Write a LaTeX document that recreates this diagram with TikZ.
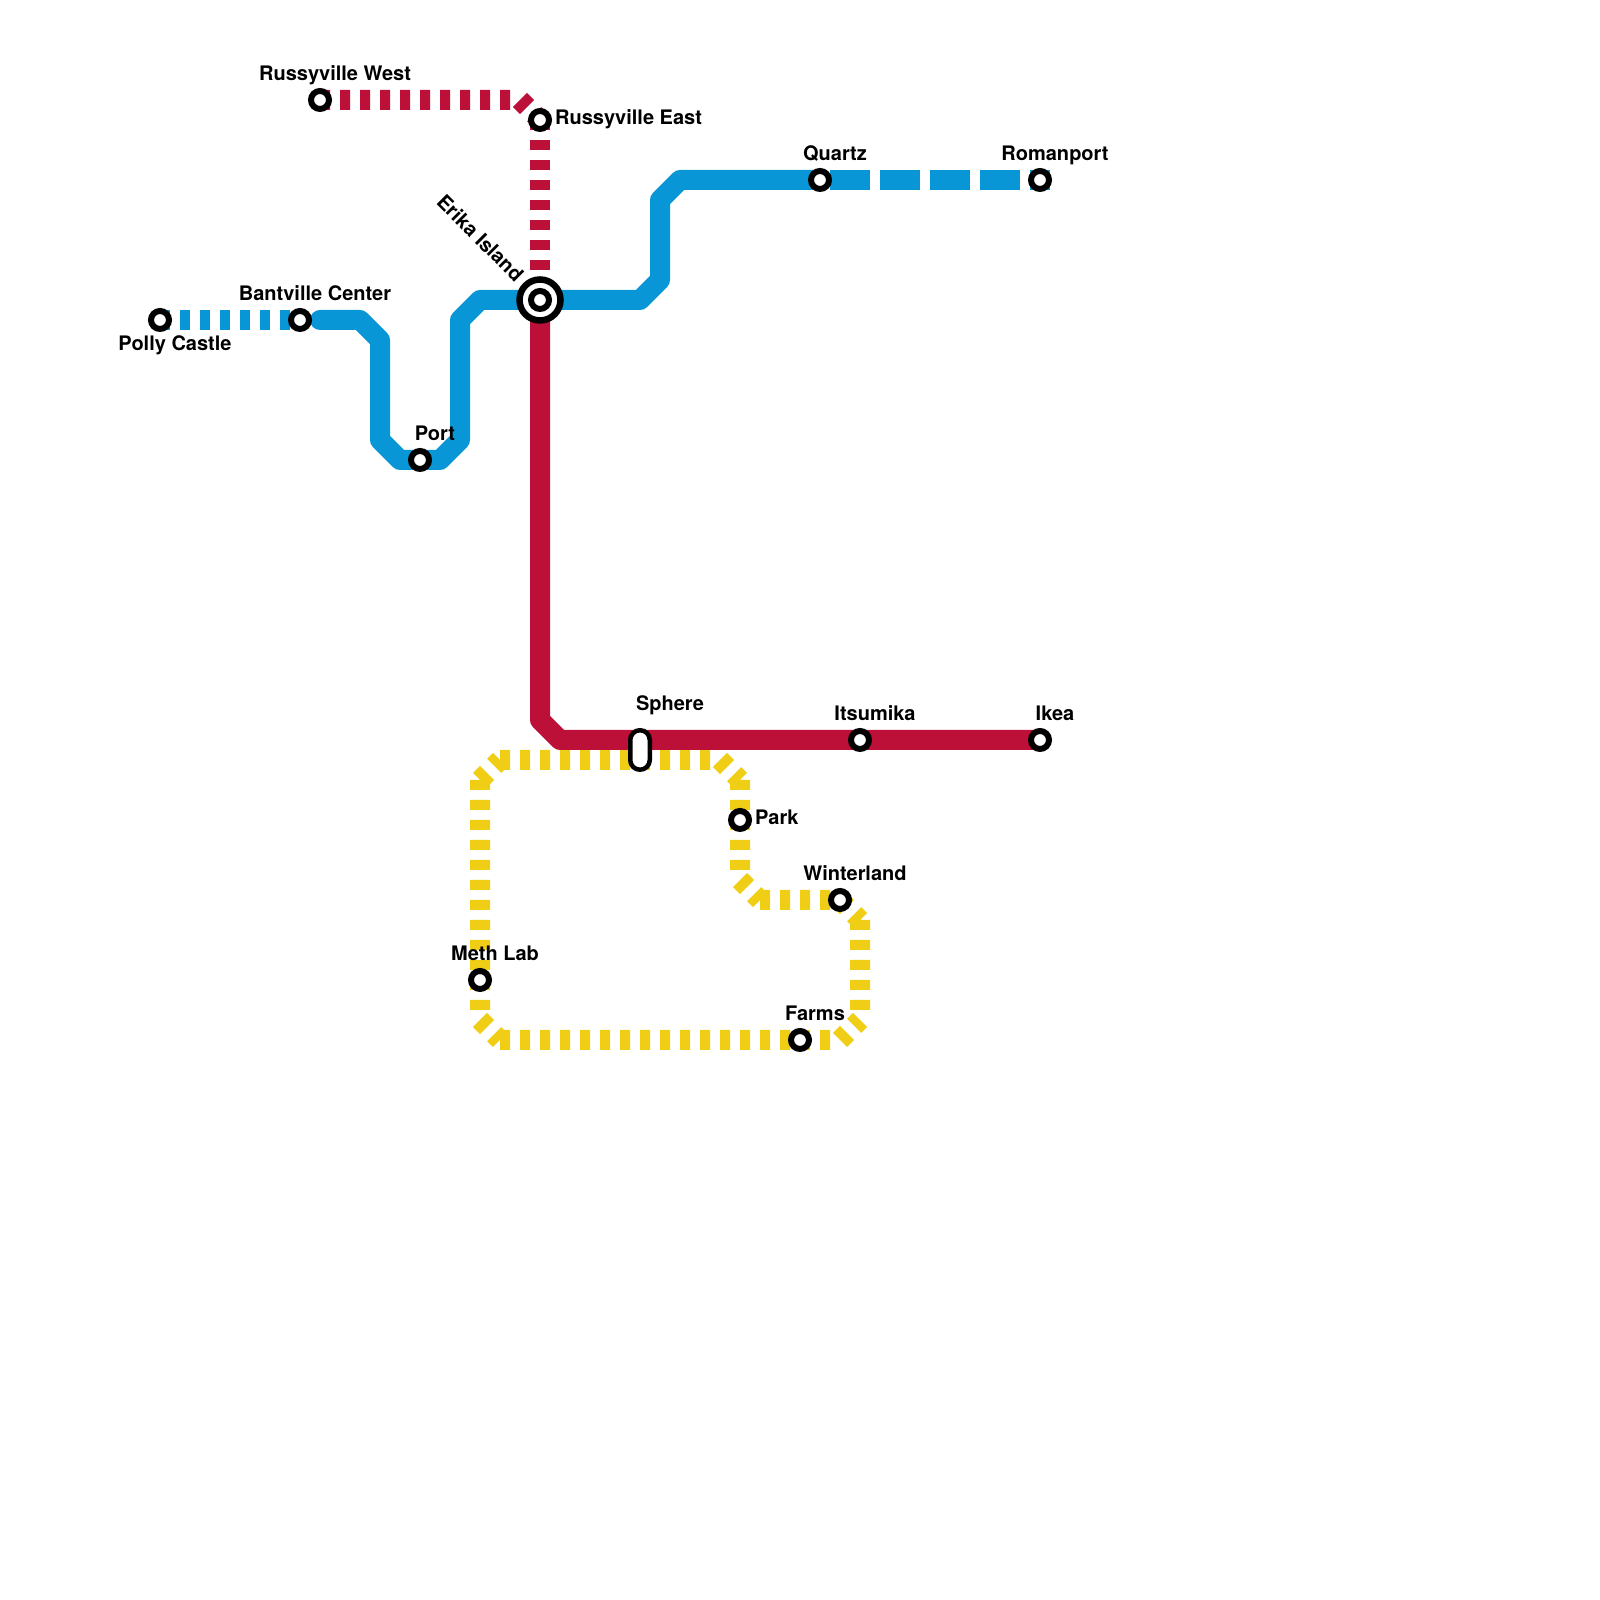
\documentclass[tikz,border=0pt]{standalone}
\usepackage{xcolor}
\usepackage{fontspec}
\setmainfont{TeX Gyre Heros}
\usetikzlibrary{positioning, calc, backgrounds}
\definecolor{lineblue}{HTML}{0896D7}
\definecolor{linered}{HTML}{BD1038}
\definecolor{lineyellow}{HTML}{F0CE15}

\begin{document}
\begin{tikzpicture}[x=1pt, y=1pt, on grid]
        \tikzstyle{station} = [circle, draw=black, fill=white, minimum size=18pt, inner sep=0pt, line width=6pt]
        \tikzstyle{hub} = [circle, draw=black, fill=white, minimum size=41pt, inner sep=0pt, line width=6.5pt]
        \tikzstyle{capsule} = [rectangle, draw=black, fill=white, rounded corners=9.7pt, minimum width=19.5pt, minimum height=39.5pt, inner sep=0pt, line width=4.5pt]
        \tikzstyle{lbl} = [inner sep=0pt, text depth=0pt, font=\fontsize{20}{22}\selectfont\bfseries]
        \tikzstyle{solidline} = [line width=20pt, line join=round]
        \tikzstyle{dotline} = [line width=20pt, dash pattern=on 10pt off 10pt]

        \useasboundingbox (0,0) rectangle (1600,1600);

        \node [station] at (160,1280) (polly) {};
        \node [station, right=140pt of polly] (bantville) {};
        \node [station, below right=140pt and 120pt of bantville] (port) {};
        \node [hub, above right=160pt and 120pt of port] (erika) {};
        \node [station] at (erika) (erikacore) {};
        \node [station, above=180pt of erika] (russyeast) {};
        \node [station, above left=20pt and 220pt of russyeast] (russywest) {};
        \node [station, above right=120pt and 280pt of erika] (quartz) {};
        \node [station, right=220pt of quartz] (romanport) {};
        \node [station, below right=440pt and 320pt of erika] (itsumika) {};
        \node [station, right=180pt of itsumika] (ikea) {};
        \node [capsule, below right=450pt and 100pt of erika] (sphere) {};
        \node [station, below right=70pt and 100pt of sphere] (park) {};
        \node [station, below right=80pt and 100pt of park] (winterland) {};
        \node [station, below left=140pt and 40pt of winterland] (farms) {};
        \node [station, above left=60pt and 320pt of farms] (methlab) {};

        \node [lbl, above=27pt of russywest, xshift=15pt] (russywestlbl) {Russyville West};
        \node [lbl, right=15pt of russyeast, anchor=base west, yshift=-4.5pt] (russyeastlbl) {Russyville East};
        \node [lbl, above left=62pt and 59.5pt of erika, anchor=center, rotate=-45] (erikalbl) {Erika Island};
        \node [lbl, above=27pt of bantville, xshift=15pt] (bantvillelbl) {Bantville Center};
        \node [lbl, below=30.5pt of polly, anchor=base, xshift=15pt] (pollylbl) {Polly Castle};
        \node [lbl, above=27pt of port, xshift=15pt] (portlbl) {Port};
        \node [lbl, above=27pt of quartz, xshift=15pt] (quartzlbl) {Quartz};
        \node [lbl, above=27pt of romanport, xshift=15pt] (romanportlbl) {Romanport};
        \node [lbl, above=47pt of sphere, xshift=30pt] (spherelbl) {Sphere};
        \node [lbl, above=27pt of itsumika, xshift=15pt] (itsumikalbl) {Itsumika};
        \node [lbl, above=27pt of ikea, xshift=15pt] (ikealbl) {Ikea};
        \node [lbl, right=15pt of park, anchor=base west, yshift=-4.5pt] (parklbl) {Park};
        \node [lbl, above=27pt of winterland, xshift=15pt] (winterlandlbl) {Winterland};
        \node [lbl, above=27pt of farms, xshift=15pt] (farmslbl) {Farms};
        \node [lbl, above=27pt of methlab, xshift=15pt] (methlablbl) {Meth Lab};

        \begin{scope}[on background layer]
            \path [draw, lineyellow, dotline] ($(methlab)+(0,200)$) -- ++(20,20) ++(0,0) -- ++(220,0) ++(0,0) -- ++(20,-20) ++(0,0) -- ++(0,-100) ++(0,0) -- ++(20,-20) ++(0,0) -- (winterland.center) -- ++(20,-20) ++(0,0) -- ++(0,-100);
            \path [draw, lineyellow, dotline] ($(methlab)+(0,200)$) -- ++(0,-240) ++(0,0) -- ++(20,-20) ++(0,0) -- (farms.center) -- ++(40,0) ++(0,0) -- ++(20,20);
            \path [draw, lineblue, dotline] (polly.center) -- (bantville.center);
            \path [draw, lineblue, solidline, line cap=round] ($(bantville)+(20,0)$) -- ++(40,0) -- ++(20,-20) -- ++(0,-100) -- ++(20,-20) -- (port.center) -- ++(20,0) -- ++(20,20) -- ++(0,120) -- ++(20,20) -- (erika.center) -- ++(100,0) -- ++(20,20) -- ++(0,80) -- ++(20,20) -- (quartz.center);
            \path [draw, lineblue, line width=20pt, dash pattern=on 40pt off 10pt, dash phase=40pt] (quartz.center) -- ($(romanport)+(10,0)$);
            \path [draw, linered, dotline] (russywest.center) -- ++(200,0) -- (russyeast.center);
            \path [draw, linered, dotline] (russyeast.center) -- (erika.center);
            \path [draw, linered, solidline] (erika.center) -- ++(0,-420) -- ++(20,-20) -- (ikea.center);
        \end{scope}
    \end{tikzpicture}
\end{document}
